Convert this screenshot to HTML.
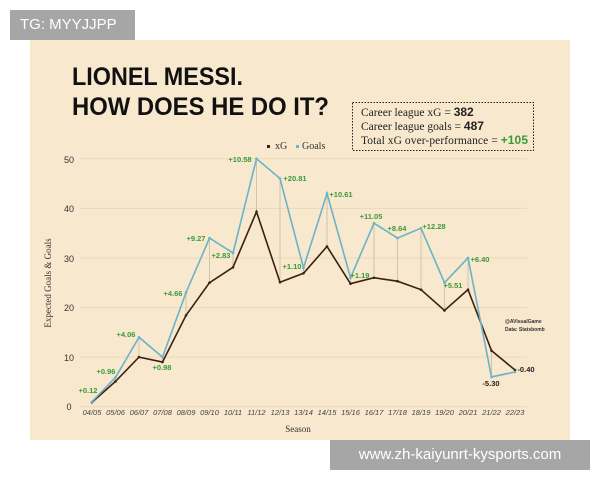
<!DOCTYPE html>
<html><head><meta charset="utf-8"><style>
body{margin:0;background:#fff;width:600px;height:480px;overflow:hidden;position:relative;font-family:"Liberation Sans",sans-serif}
.tg{position:absolute;left:10px;top:10px;width:125px;height:30px;background:#a6a6a6;color:#fff;font-size:15px;line-height:30px;padding-left:10px;box-sizing:border-box}
.url{position:absolute;left:330px;top:440px;width:260px;height:30px;background:#a6a6a6;color:#fff;font-size:15px;line-height:30px;text-align:center}
</style></head><body>
<svg width="600" height="480" style="position:absolute;left:0;top:0">
<rect x="30" y="40" width="540" height="400" fill="#f8e8cd"/>
<text x="72" y="85" font-family="Liberation Sans" font-weight="bold" font-size="25" textLength="171" lengthAdjust="spacingAndGlyphs" fill="#111">LIONEL MESSI.</text>
<text x="72" y="115" font-family="Liberation Sans" font-weight="bold" font-size="25" textLength="257" lengthAdjust="spacingAndGlyphs" fill="#111">HOW DOES HE DO IT?</text>
<rect x="352.5" y="102.5" width="181" height="48" fill="none" stroke="#222" stroke-dasharray="1.5,1.5"/>
<g font-family="Liberation Serif" font-size="11.5" fill="#222">
<text x="361" y="116">Career league xG = <tspan font-family="Liberation Sans" font-weight="bold" font-size="12">382</tspan></text>
<text x="361" y="130">Career league goals = <tspan font-family="Liberation Sans" font-weight="bold" font-size="12">487</tspan></text>
<text x="361" y="144" textLength="167" lengthAdjust="spacing">Total xG over-performance = <tspan font-family="Liberation Sans" font-weight="bold" fill="#3a9a3a" font-size="12">+105</tspan></text>
</g>
<rect x="267" y="145" width="3" height="3" fill="#3d2010"/>
<text x="275" y="149" font-family="Liberation Serif" font-size="10" fill="#333">xG</text>
<rect x="296" y="145" width="3" height="3" fill="#6ab3c8"/>
<text x="302" y="149" font-family="Liberation Serif" font-size="10" fill="#333">Goals</text>
<g stroke="#ead9bb" stroke-width="1">
<line x1="80" x2="527" y1="357.1" y2="357.1"/><line x1="80" x2="527" y1="307.5" y2="307.5"/><line x1="80" x2="527" y1="258" y2="258"/><line x1="80" x2="527" y1="208.4" y2="208.4"/><line x1="80" x2="527" y1="158.8" y2="158.8"/><line x1="80" x2="527" y1="406.7" y2="406.7"/>
</g>
<g font-family="Liberation Sans" font-size="9" fill="#333" text-anchor="middle">
<text x="69" y="410">0</text><text x="69" y="361">10</text><text x="69" y="311">20</text><text x="69" y="262">30</text><text x="69" y="212">40</text><text x="69" y="163">50</text>
</g>
<text transform="translate(51,283) rotate(-90)" font-family="Liberation Serif" font-size="9" fill="#333" text-anchor="middle">Expected Goals &amp; Goals</text>
<text x="298" y="432" font-family="Liberation Serif" font-size="9" fill="#333" text-anchor="middle">Season</text>
<g font-family="Liberation Sans" font-style="italic" font-size="7.5" fill="#444" text-anchor="middle" id="xl"></g>
<g id="plot"></g>
<g font-family="Liberation Sans" font-weight="bold" font-size="7.5" fill="#3a9a3a" text-anchor="middle">
<text x="88" y="393">+0.12</text><text x="106" y="374">+0.96</text><text x="126" y="337">+4.06</text><text x="162" y="370">+0.98</text><text x="173" y="296">+4.66</text><text x="196" y="241">+9.27</text><text x="221" y="258">+2.83</text><text x="240" y="162">+10.58</text><text x="295" y="181">+20.81</text><text x="292" y="269">+1.10</text><text x="341" y="197">+10.61</text><text x="371" y="219">+11.05</text><text x="397" y="231">+8.64</text><text x="434" y="229">+12.28</text><text x="360" y="278">+1.19</text><text x="453" y="288">+5.51</text><text x="480" y="262">+6.40</text>
<text x="491" y="386" fill="#222">-5.30</text><text x="526" y="372" fill="#222">-0.40</text>
</g>
<g font-family="Liberation Sans" font-weight="bold" font-size="5" fill="#333"><text x="505" y="323">@AVisualGame</text><text x="505" y="331">Data: Statsbomb</text></g>
</svg>
<div class="tg">TG: MYYJJPP</div>
<div class="url">www.zh-kaiyunrt-kysports.com</div>
<script>
var g=[1,5.9,14,10,23,34,31,50,46,28,43,26,37,34,36,25,30,6,7];
var x=[0.9,5.1,10,9,18.4,25,28.1,39.3,25.1,26.9,32.3,24.8,26,25.3,23.6,19.4,23.6,11.3,7.4];
var s=["04/05","05/06","06/07","07/08","08/09","09/10","10/11","11/12","12/13","13/14","14/15","15/16","16/17","17/18","18/19","19/20","20/21","21/22","22/23"];
function X(i){return 92+i*23.5}function Y(v){return 406.7-v*4.96}
var h="",pg="",px="";
for(var i=0;i<19;i++){h+='<line x1="'+X(i)+'" x2="'+X(i)+'" y1="'+Y(g[i])+'" y2="'+Y(x[i])+'" stroke="#b8b8a0" stroke-width="0.7"/>';pg+=X(i)+","+Y(g[i])+" ";px+=X(i)+","+Y(x[i])+" ";}
h+='<polyline points="'+px+'" fill="none" stroke="#3d2010" stroke-width="1.6"/>';
h+='<polyline points="'+pg+'" fill="none" stroke="#6ab3c8" stroke-width="1.6"/>';
for(i=0;i<19;i++){h+='<circle cx="'+X(i)+'" cy="'+Y(x[i])+'" r="1.3" fill="#3d2010"/><circle cx="'+X(i)+'" cy="'+Y(g[i])+'" r="1.3" fill="#6ab3c8"/>';}
document.getElementById("plot").innerHTML=h;
var t="";for(i=0;i<19;i++)t+='<text x="'+X(i)+'" y="415">'+s[i]+'</text>';
document.getElementById("xl").innerHTML=t;
</script>
</body></html>
